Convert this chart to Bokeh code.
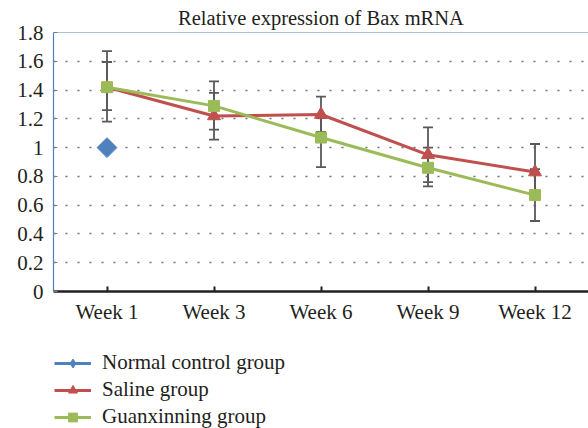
import math
from bokeh.plotting import figure
from bokeh.layouts import column
from bokeh.models import (FixedTicker, Whisker, TeeHead, ColumnDataSource, Legend,
                          LegendItem, Span, FactorRange, Range1d)
from bokeh.embed import file_html
from bokeh.resources import INLINE

# ---- data ----
weeks = ["Week 1", "Week 3", "Week 6", "Week 9", "Week 12"]
normal_weeks = ["Week 1"]
normal_vals = [1.0]
saline_vals = [1.42, 1.22, 1.23, 0.95, 0.83]
saline_upper = [1.67, 1.38, 1.355, 1.14, 1.025]
saline_lower = [1.18, 1.055, 1.11, 0.76, 0.67]
guan_vals = [1.42, 1.29, 1.07, 0.86, 0.67]
guan_upper = [1.595, 1.46, 1.205, 1.0, 0.85]
guan_lower = [1.26, 1.125, 0.865, 0.73, 0.49]
y_ticks = [0, 0.2, 0.4, 0.6, 0.8, 1.0, 1.2, 1.4, 1.6, 1.8]
y_tick_labels = ["0", "0.2", "0.4", "0.6", "0.8", "1", "1.2", "1.4", "1.6", "1.8"]
title_text = "Relative expression of Bax mRNA"
series_names = ["Normal control group", "Saline group", "Guanxinning group"]

BLUE = "#4f81bd"
RED = "#c0504d"
GREEN = "#9bbb59"
ERR = "#595959"
TXT = "#231f20"
FONT = "Liberation Serif"

p = figure(width=588, height=340, output_backend="svg", toolbar_location=None,
           x_range=FactorRange(*weeks, range_padding=0), y_range=Range1d(0, 1.8),
           min_border_left=53, min_border_right=0, min_border_top=32,
           min_border_bottom=49)
p.outline_line_color = None
p.background_fill_color = "white"
p.border_fill_color = "white"

p.title.text = title_text
p.title.text_font = FONT
p.title.text_font_size = "20.5px"
p.title.text_font_style = "normal"
p.title.text_color = TXT
p.title.align = "center"
p.title.standoff = 7
p.title.offset = 0

# axes
p.yaxis.ticker = FixedTicker(ticks=y_ticks)
p.yaxis.major_label_overrides = {t: l for t, l in zip(y_ticks, y_tick_labels)}
p.yaxis.axis_line_color = BLUE
p.yaxis.axis_line_width = 1.2
p.yaxis.major_tick_in = 4
p.yaxis.major_tick_out = 0
p.yaxis.major_tick_line_color = "#7f7f7f"
p.yaxis.minor_tick_line_color = None
p.yaxis.major_label_text_font = FONT
p.yaxis.major_label_text_font_size = "21px"
p.yaxis.major_label_text_color = TXT
p.yaxis.major_label_standoff = 10

p.xaxis.axis_line_color = "#231f20"
p.xaxis.axis_line_width = 2.6
p.xaxis.major_tick_in = 5
p.xaxis.major_tick_out = 0
p.xaxis.major_tick_line_color = "#231f20"
p.xaxis.major_tick_line_width = 2
p.xaxis.major_label_text_font = FONT
p.xaxis.major_label_text_font_size = "21px"
p.xaxis.major_label_text_color = TXT
p.xaxis.major_label_standoff = 8

p.xgrid.grid_line_color = None
p.ygrid.grid_line_color = "#6f6f6f"
p.ygrid.grid_line_dash = "2 10"
p.ygrid.grid_line_width = 1.3

p.add_layout(Span(location=1.8, dimension="width", line_color=BLUE, line_width=1.2))

# sources
src_s = ColumnDataSource(dict(x=weeks, y=saline_vals, up=saline_upper, lo=saline_lower))
src_g = ColumnDataSource(dict(x=weeks, y=guan_vals, up=guan_upper, lo=guan_lower))
src_n = ColumnDataSource(dict(x=normal_weeks, y=normal_vals))

def whisk(src):
    return Whisker(source=src, base="x", upper="up", lower="lo", dimension="height",
                   line_color=ERR, line_width=1.8,
                   upper_head=TeeHead(size=10, line_color=ERR, line_width=1.8),
                   lower_head=TeeHead(size=10, line_color=ERR, line_width=1.8))

colors = [BLUE, RED, GREEN]
markers = ["square", "triangle", "square"]
legend_markers = ["diamond", "triangle", "square"]
angles = [math.pi / 4, 0, 0]
sizes = [14, 13, 11]
sources = [src_n, src_s, src_g]

for src, c, m, a, s in zip(sources, colors, markers, angles, sizes):
    if src is not src_n:
        p.add_layout(whisk(src))
    p.line("x", "y", source=src, line_color=c, line_width=3)
    p.scatter("x", "y", source=src, marker=m, angle=a, size=s,
              fill_color=c, line_color=c)

# ---- legend panel (separate figure beneath the chart) ----
# same sources, but the view range lies outside the data so only legend glyphs show
q = figure(width=588, height=88, output_backend="svg", toolbar_location=None,
           x_range=FactorRange(*weeks, range_padding=0), y_range=Range1d(10, 11),
           min_border_left=0, min_border_right=0, min_border_top=0, min_border_bottom=0)
q.axis.visible = False
q.grid.visible = False
q.outline_line_color = None
q.border_fill_color = "white"
q.background_fill_color = "white"

items = []
for name, src, c, m in zip(series_names, sources, colors, legend_markers):
    lr = q.line("x", "y", source=src, line_color=c, line_width=3)
    mr = q.scatter("x", "y", source=src, marker=m, fill_color=c, line_color=c)
    items.append(LegendItem(label=name, renderers=[lr, mr]))

legend = Legend(items=items, location=(1, -2), orientation="vertical",
                glyph_width=37, glyph_height=22, label_height=27, spacing=0,
                label_standoff=11, padding=0, margin=0,
                border_line_color=None, background_fill_alpha=0,
                label_text_font=FONT, label_text_font_size="21px",
                label_text_color=TXT)
q.add_layout(legend, "center")

open("out.html", "w").write(file_html(column(p, q, spacing=0), INLINE))
